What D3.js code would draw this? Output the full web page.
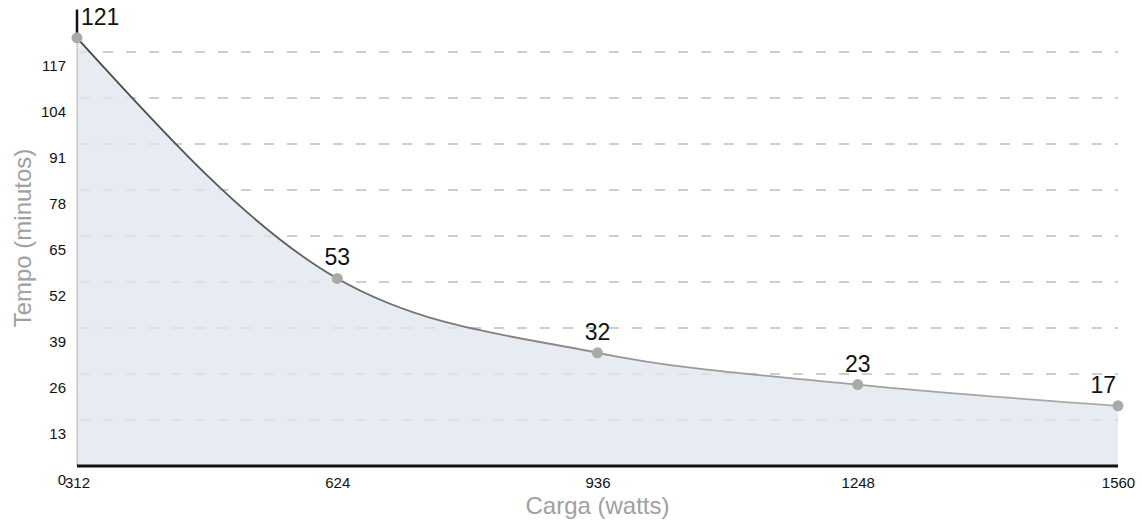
<!DOCTYPE html>
<html>
<head>
<meta charset="utf-8">
<script src="https://cdn.jsdelivr.net/npm/d3@7"></script>
<style>
  body { margin: 0; background: #fff; }
  text { font-family: "Liberation Sans", Arial, sans-serif; }
</style>
</head>
<body>
<svg id="chart" width="1142" height="524"></svg>
<script>
// data
let cargas = [312, 624, 936, 1248, 1560];
let tempos = [121, 53, 32, 23, 17];
let yTicks = [0, 13, 26, 39, 52, 65, 78, 91, 104, 117];
let xTicks = [312, 624, 936, 1248, 1560];

let width = 1142, height = 524;
let margin = { left: 77, right: 24, top: 6, bottom: 58 };

let svg = d3.select("#chart");

let x = d3.scaleLinear()
    .domain([312, 1560])
    .range([margin.left, width - margin.right]);
let y = d3.scaleLinear()
    .domain([0, 130])
    .range([height - margin.bottom, margin.top]);

let data = cargas.map((c, i) => ({ carga: c, tempo: tempos[i] }));

// grid lines (dashed, light)
svg.append("g")
    .selectAll("line")
    .data(yTicks.filter(t => t > 0))
    .enter()
    .append("line")
        .attr("x1", x(312) + 3)
        .attr("x2", x(1560))
        .attr("y1", d => y(d))
        .attr("y2", d => y(d))
        .attr("stroke", "#bdbdbd")
        .attr("stroke-width", 1.3)
        .attr("stroke-dasharray", "10,13");

// area under curve
let area = d3.area()
    .x(d => x(d.carga))
    .y0(y(0))
    .y1(d => y(d.tempo))
    .curve(d3.curveMonotoneX);
svg.append("path")
    .datum(data)
    .attr("d", area)
    .attr("fill", "#dfe5ee")
    .attr("fill-opacity", 0.75);

// left edge of the fill, dotted
svg.append("line")
    .attr("x1", x(312)).attr("x2", x(312))
    .attr("y1", y(tempos[0])).attr("y2", y(0))
    .attr("stroke", "#888")
    .attr("stroke-width", 1.2)
    .attr("stroke-dasharray", "1,1");

// y axis top part (dark)
svg.append("line")
    .attr("x1", x(312)).attr("x2", x(312))
    .attr("y1", y(129)).attr("y2", y(tempos[0]))
    .attr("stroke", "#111")
    .attr("stroke-width", 2.5);

// curve: darker on first segments, lighter later
let line = d3.line()
    .x(d => x(d.carga))
    .y(d => y(d.tempo))
    .curve(d3.curveMonotoneX);
let grad = svg.append("defs").append("linearGradient")
    .attr("id", "lineGrad")
    .attr("gradientUnits", "userSpaceOnUse")
    .attr("x1", x(312)).attr("x2", x(1560))
    .attr("y1", 0).attr("y2", 0);
grad.append("stop").attr("offset", "0%").attr("stop-color", "#444");
grad.append("stop").attr("offset", "25%").attr("stop-color", "#666");
grad.append("stop").attr("offset", "55%").attr("stop-color", "#999");
grad.append("stop").attr("offset", "100%").attr("stop-color", "#aaa");
svg.append("path")
    .datum(data)
    .attr("d", line)
    .attr("fill", "none")
    .attr("stroke", "url(#lineGrad)")
    .attr("stroke-width", 1.8);

// x axis line
svg.append("line")
    .attr("x1", x(312)).attr("x2", x(1560))
    .attr("y1", y(0)).attr("y2", y(0))
    .attr("stroke", "#111")
    .attr("stroke-width", 3);

// points
svg.append("g")
    .selectAll("circle")
    .data(data)
    .enter()
    .append("circle")
        .attr("cx", d => x(d.carga))
        .attr("cy", d => y(d.tempo))
        .attr("r", 5.5)
        .attr("fill", "#a9a9a9");

// value labels
svg.append("g")
    .selectAll("text")
    .data(data)
    .enter()
    .append("text")
        .attr("x", (d, i) => i === 0 ? x(d.carga) + 4 : (i === data.length - 1 ? x(d.carga) - 2 : x(d.carga)))
        .attr("y", d => y(d.tempo) - 13)
        .attr("text-anchor", (d, i) => i === 0 ? "start" : (i === data.length - 1 ? "end" : "middle"))
        .attr("font-size", 23)
        .attr("fill", "#111")
        .text(d => d.tempo);

// y axis tick labels (sit a bit below their grid lines, as in the scan)
let yAxis = d3.axisLeft(y).tickValues(yTicks).tickSize(0).tickPadding(11);
let gy = svg.append("g")
    .attr("transform", `translate(${x(312)},14)`)
    .call(yAxis);
gy.select(".domain").remove();
gy.selectAll("text")
    .attr("font-size", 15)
    .attr("font-family", "Liberation Sans, Arial, sans-serif")
    .attr("fill", "#111");

// x axis tick labels
let xAxis = d3.axisBottom(x).tickValues(xTicks).tickSize(0).tickPadding(11).tickFormat(d3.format("d"));
let gx = svg.append("g")
    .attr("transform", `translate(0,${y(0)})`)
    .call(xAxis);
gx.select(".domain").remove();
gx.selectAll("text")
    .attr("font-size", 15)
    .attr("font-family", "Liberation Sans, Arial, sans-serif")
    .attr("fill", "#111");

// axis titles
svg.append("text")
    .attr("transform", "translate(31,238) rotate(-90)")
    .attr("text-anchor", "middle")
    .attr("font-size", 24)
    .attr("fill", "#a0a0a0")
    .text("Tempo (minutos)");
svg.append("text")
    .attr("x", (x(312) + x(1560)) / 2)
    .attr("y", 514)
    .attr("text-anchor", "middle")
    .attr("font-size", 24)
    .attr("fill", "#a0a0a0")
    .text("Carga (watts)");
</script>
</body>
</html>
